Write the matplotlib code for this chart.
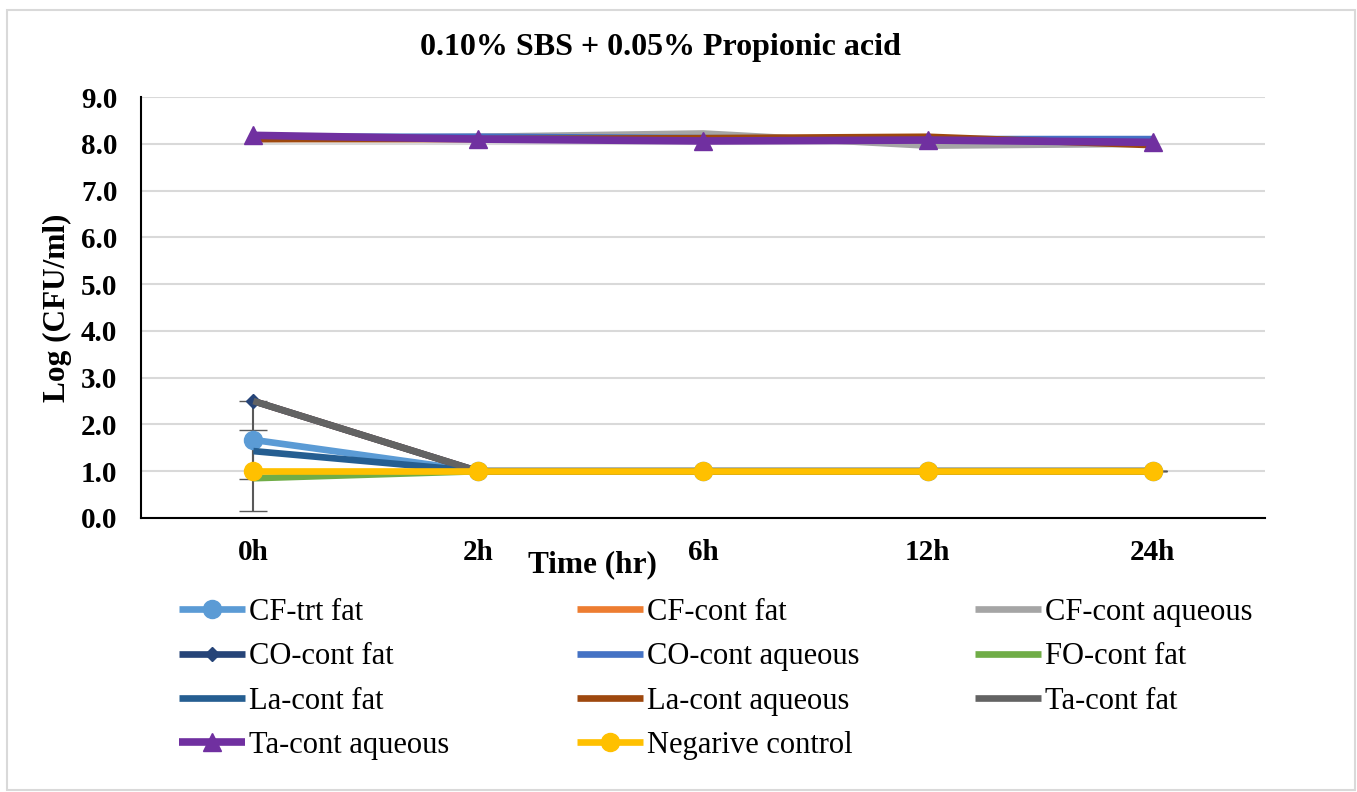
import numpy as np
import matplotlib
matplotlib.use('Agg')
import matplotlib.pyplot as plt
from matplotlib.patches import Rectangle

# data
times = ['0h', '2h', '6h', '12h', '24h']
cf_trt_fat = [1.67, 1.0, 1.0, 1.0, 1.0]
cf_cont_fat = [2.5, 1.0, 1.0, 1.0, 1.0]
cf_cont_aq = [8.10, 8.15, 8.22, 7.96, 8.00]
co_cont_fat = [2.5, 1.0, 1.0, 1.0, 1.0]
co_cont_aq = [8.15, 8.15, 8.12, 8.10, 8.10]
fo_cont_fat = [0.85, 1.0, 1.0, 1.0, 1.0]
la_cont_fat = [1.43, 1.0, 1.0, 1.0, 1.0]
la_cont_aq = [8.10, 8.10, 8.12, 8.15, 7.97]
ta_cont_fat = [2.5, 1.0, 1.0, 1.0, 1.0]
ta_cont_aq = [8.18, 8.10, 8.06, 8.08, 8.03]
neg_control = [1.0, 1.0, 1.0, 1.0, 1.0]

# error bars only shown at 0h
cf_trt_err_low = [0.84, 0, 0, 0, 0]
cf_trt_err_high = [0.21, 0, 0, 0, 0]
co_fat_err_low = [2.35, 0, 0, 0, 0]

series = [
    ('CF-trt fat', cf_trt_fat, '#5B9BD5', 'o', 13),
    ('CF-cont fat', cf_cont_fat, '#ED7D31', None, 0),
    ('CF-cont aqueous', cf_cont_aq, '#A5A5A5', None, 0),
    ('CO-cont fat', co_cont_fat, '#264478', 'D', 7),
    ('CO-cont aqueous', co_cont_aq, '#4472C4', None, 0),
    ('FO-cont fat', fo_cont_fat, '#70AD47', None, 0),
    ('La-cont fat', la_cont_fat, '#255E91', None, 0),
    ('La-cont aqueous', la_cont_aq, '#9E480E', None, 0),
    ('Ta-cont fat', ta_cont_fat, '#636363', None, 0),
    ('Ta-cont aqueous', ta_cont_aq, '#7030A0', '^', 13),
    ('Negarive control', neg_control, '#FFC000', 'o', 13),
]

serif = ['Liberation Serif', 'DejaVu Serif']

fig = plt.figure(figsize=(13.57, 7.92), dpi=100)
fig.patches.append(Rectangle((7 / 1357, 2 / 792), 1348 / 1357, 780 / 792,
                             transform=fig.transFigure, fill=False,
                             edgecolor='#D9D9D9', lw=1.5))
ax = fig.add_axes([141 / 1357, 1 - 518 / 792, 1124 / 1357, 421 / 792])

x = np.arange(len(times))
ax.errorbar(x, cf_trt_fat, yerr=[cf_trt_err_low, cf_trt_err_high], fmt='none',
            ecolor='#595959', elinewidth=1.5, capsize=10, zorder=1)
ax.errorbar(x, co_cont_fat, yerr=[co_fat_err_low, [0] * 5], fmt='none',
            ecolor='#595959', elinewidth=1.5, capsize=10, zorder=1)

handles = []
for i, (name, vals, col, mk, ms) in enumerate(series):
    lw = 5.5 if name == 'Ta-cont aqueous' else 4.8
    h, = ax.plot(x, vals, color=col, lw=lw, marker=mk, markersize=ms,
                 label=name, zorder=2 + i, solid_capstyle='butt')
    handles.append(h)

ax.set_xlim(-0.5, 4.5)
ax.set_ylim(0, 9)
ax.set_yticks(np.arange(0, 9.1, 1.0))
ax.set_yticklabels([f'{v:.1f}' for v in np.arange(0, 9.1, 1.0)])
ax.set_xticks(x)
ax.set_xticklabels(times)
ax.tick_params(axis='both', length=0, labelsize=21)
ax.tick_params(axis='y', pad=17)
ax.tick_params(axis='x', pad=15)
for lab in ax.get_xticklabels() + ax.get_yticklabels():
    lab.set_family(serif)
    lab.set_fontweight('bold')

ax.grid(axis='y', color='#D9D9D9', lw=1.5)
ax.set_axisbelow(True)
for s in ['top', 'right']:
    ax.spines[s].set_visible(False)
for s in ['left', 'bottom']:
    ax.spines[s].set_linewidth(1.5)
    ax.spines[s].set_zorder(20)

ax.set_xlabel('Time (hr)', family=serif, fontweight='bold', fontsize=22.5)
ax.xaxis.set_label_coords(0.402, -0.076)
ax.set_ylabel('Log (CFU/ml)', family=serif, fontweight='bold', fontsize=22.5)
ax.yaxis.set_label_coords(-0.061, 0.5)

fig.text(660 / 1357, 1 - 47 / 792, '0.10% SBS + 0.05% Propionic acid',
         family=serif, fontweight='bold', fontsize=23, ha='center', va='center')

# legend drawn as three columns, filled row by row like Excel
col_x = [179, 577, 975]
for c in range(3):
    hs = handles[c::3]
    fig.legend(hs, [h.get_label() for h in hs], loc='upper left',
               bbox_to_anchor=(col_x[c] / 1357, 1 - 598 / 792),
               frameon=False, prop={'family': serif, 'size': 22},
               handlelength=2.15, handletextpad=0.15, labelspacing=0.5,
               borderaxespad=0, borderpad=0)

fig.savefig('out.png', dpi=100)
